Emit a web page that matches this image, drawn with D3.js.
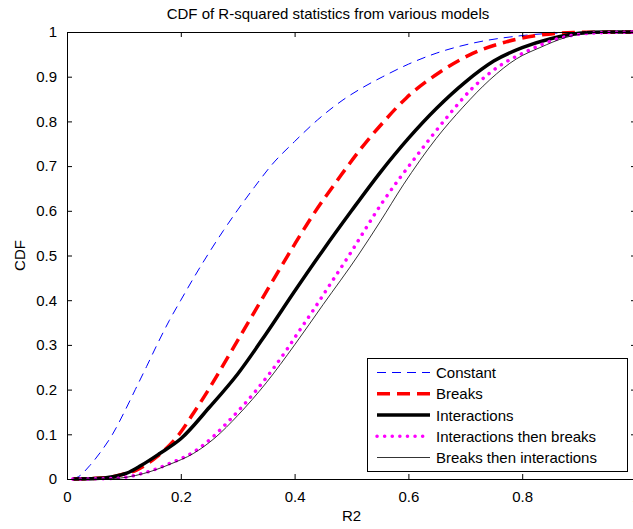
<!DOCTYPE html>
<html>
<head>
<meta charset="utf-8">
<script src="https://cdn.jsdelivr.net/npm/d3@7"></script>
<style>
  body { margin: 0; background: #fff; }
  text { font-family: "Liberation Sans", Arial, sans-serif; fill: #000; }
</style>
</head>
<body>
<div id="cdfChart"></div>
<script>
// Data: [R2, CDF] pairs per model
const constantCdf = [
  [0.01, 0], [0.02, 0.005], [0.04, 0.03], [0.06, 0.062], [0.08, 0.1], [0.1, 0.148],
  [0.12, 0.2], [0.14, 0.252], [0.16, 0.305], [0.18, 0.355], [0.2, 0.4], [0.225, 0.455],
  [0.25, 0.507], [0.275, 0.556], [0.3, 0.602], [0.33, 0.654], [0.36, 0.703], [0.4, 0.755],
  [0.44, 0.803], [0.485, 0.848], [0.52, 0.876], [0.555, 0.9], [0.6, 0.928], [0.65, 0.953],
  [0.713, 0.975], [0.8, 0.992], [0.9, 0.999], [1, 1]
];
const breaksCdf = [
  [0.01, 0], [0.06, 0.002], [0.09, 0.008], [0.122, 0.02], [0.158, 0.05], [0.2, 0.105],
  [0.22, 0.143], [0.245, 0.192], [0.27, 0.245], [0.3, 0.31], [0.33, 0.375], [0.36, 0.44],
  [0.4, 0.525], [0.432, 0.59], [0.479, 0.675], [0.514, 0.735], [0.555, 0.797],
  [0.596, 0.852], [0.655, 0.91], [0.713, 0.952], [0.772, 0.978], [0.831, 0.993],
  [0.89, 0.999], [1, 1]
];
const interactionsCdf = [
  [0.01, 0], [0.05, 0.001], [0.08, 0.005], [0.105, 0.013], [0.13, 0.03], [0.163, 0.057],
  [0.2, 0.09], [0.25, 0.16], [0.3, 0.235], [0.35, 0.325], [0.4, 0.42], [0.45, 0.512],
  [0.5, 0.6], [0.55, 0.685], [0.6, 0.762], [0.65, 0.83], [0.7, 0.888], [0.75, 0.935],
  [0.8, 0.965], [0.85, 0.985], [0.9, 0.997], [0.95, 1], [1, 1]
];
const interThenBreaksCdf = [
  [0.01, 0], [0.08, 0.001], [0.134, 0.013], [0.181, 0.035], [0.222, 0.06], [0.257, 0.095],
  [0.286, 0.132], [0.31, 0.165], [0.333, 0.199], [0.356, 0.236], [0.386, 0.289],
  [0.409, 0.333], [0.433, 0.378], [0.456, 0.423], [0.494, 0.497], [0.555, 0.62],
  [0.614, 0.722], [0.667, 0.808], [0.713, 0.875], [0.76, 0.924], [0.807, 0.956],
  [0.86, 0.984], [0.918, 0.997], [1, 1]
];
const breaksThenInterCdf = [
  [0.01, 0], [0.08, 0.001], [0.134, 0.012], [0.181, 0.033], [0.222, 0.057], [0.26, 0.092],
  [0.3, 0.142], [0.35, 0.215], [0.4, 0.3], [0.45, 0.39], [0.512, 0.501], [0.55, 0.575],
  [0.591, 0.658], [0.649, 0.762], [0.696, 0.832], [0.743, 0.893], [0.79, 0.94],
  [0.831, 0.965], [0.877, 0.988], [0.936, 0.999], [1, 1]
];

const seriesNames = ["Constant", "Breaks", "Interactions", "Interactions then breaks", "Breaks then interactions"];
const xTicks = [0, 0.2, 0.4, 0.6, 0.8, 1];
const yTicks = [0, 0.1, 0.2, 0.3, 0.4, 0.5, 0.6, 0.7, 0.8, 0.9, 1];

// line styles, same order as the names
const styles = [
  { color: "#0000ff", width: 1, dash: "9,6", cap: "butt" },
  { color: "#ff0000", width: 3.5, dash: "13,7", cap: "butt" },
  { color: "#000000", width: 3.5, dash: null, cap: "butt" },
  { color: "#ff00ff", width: 3.5, dash: "0.1,7.5", cap: "round" },
  { color: "#000000", width: 0.8, dash: null, cap: "butt" }
];
const allSeries = [constantCdf, breaksCdf, interactionsCdf, interThenBreaksCdf, breaksThenInterCdf];

// Dimensions: axes box runs past the right edge of the window like the original
const margin = { top: 32, right: -3, bottom: 50, left: 67 };
const totalW = 633, totalH = 529;
const width = totalW - margin.left - margin.right;
const height = totalH - margin.top - margin.bottom;

const svg = d3.select("#cdfChart").append("svg")
    .attr("width", totalW)
    .attr("height", totalH)
  .append("g")
    .attr("transform", `translate(${margin.left},${margin.top})`);

const x = d3.scaleLinear().domain([0, 1]).range([0, width]);
const y = d3.scaleLinear().domain([0, 1]).range([height, 0]);

const line = d3.line()
    .x(d => x(d[0]))
    .y(d => y(d[1]))
    .curve(d3.curveMonotoneX);

// Lines
allSeries.forEach((data, i) => {
    const s = styles[i];
    svg.append("path")
        .datum(data)
        .attr("fill", "none")
        .attr("stroke", s.color)
        .attr("stroke-width", s.width)
        .attr("stroke-dasharray", s.dash)
        .attr("stroke-linecap", s.cap)
        .attr("stroke-linejoin", "round")
        .attr("d", line);
});

// Axes (ticks point inward, mirrored on top and right)
const fmt = d => d === 0 || d === 1 ? String(d) : d3.format(".1f")(d);
const styleAxis = g => {
    g.select(".domain").attr("stroke", "#000").attr("stroke-width", 1);
    g.selectAll(".tick line").attr("stroke", "#000");
    g.selectAll("text").style("font-size", "15px").style("font-family", "'Liberation Sans', Arial, sans-serif");
};

svg.append("g")
    .attr("transform", `translate(0,${height})`)
    .call(d3.axisBottom(x).tickValues(xTicks).tickFormat(fmt).tickSizeInner(-5).tickSizeOuter(0).tickPadding(12))
    .call(styleAxis);

svg.append("g")
    .call(d3.axisTop(x).tickValues(xTicks).tickFormat("").tickSizeInner(-5).tickSizeOuter(0))
    .call(styleAxis);

svg.append("g")
    .call(d3.axisLeft(y).tickValues(yTicks).tickFormat(fmt).tickSizeInner(-5).tickSizeOuter(0).tickPadding(10))
    .call(styleAxis);

svg.append("g")
    .attr("transform", `translate(${width},0)`)
    .call(d3.axisRight(y).tickValues(yTicks).tickFormat("").tickSizeInner(-5).tickSizeOuter(0))
    .call(styleAxis);

// Title
svg.append("text")
    .attr("x", 328 - margin.left)
    .attr("y", 19 - margin.top)
    .attr("text-anchor", "middle")
    .style("font-size", "15px")
    .text("CDF of R-squared statistics from various models");

// x-axis label
svg.append("text")
    .attr("x", x(0.5))
    .attr("y", 521 - margin.top)
    .attr("text-anchor", "middle")
    .style("font-size", "15px")
    .text("R2");

// y-axis label
svg.append("text")
    .attr("transform", "rotate(-90)")
    .attr("x", -y(0.5))
    .attr("y", 25 - margin.left)
    .attr("text-anchor", "middle")
    .style("font-size", "15px")
    .text("CDF");

// Legend
const legend = svg.append("g")
    .attr("transform", `translate(${367 - margin.left},${358 - margin.top})`);

legend.append("rect")
    .attr("x", 0.5).attr("y", 0.5)
    .attr("width", 260).attr("height", 113)
    .attr("fill", "#fff")
    .attr("stroke", "#000")
    .attr("stroke-width", 1);

seriesNames.forEach((name, i) => {
    const s = styles[i];
    const cy = 14.5 + i * 21.25;
    legend.append("line")
        .attr("x1", 10).attr("x2", 63)
        .attr("y1", cy).attr("y2", cy)
        .attr("stroke", s.color)
        .attr("stroke-width", s.width)
        .attr("stroke-dasharray", s.dash)
        .attr("stroke-linecap", s.cap);
    legend.append("text")
        .attr("x", 69)
        .attr("y", cy + 5.5)
        .style("font-size", "15px")
        .text(name);
});
</script>
</body>
</html>
